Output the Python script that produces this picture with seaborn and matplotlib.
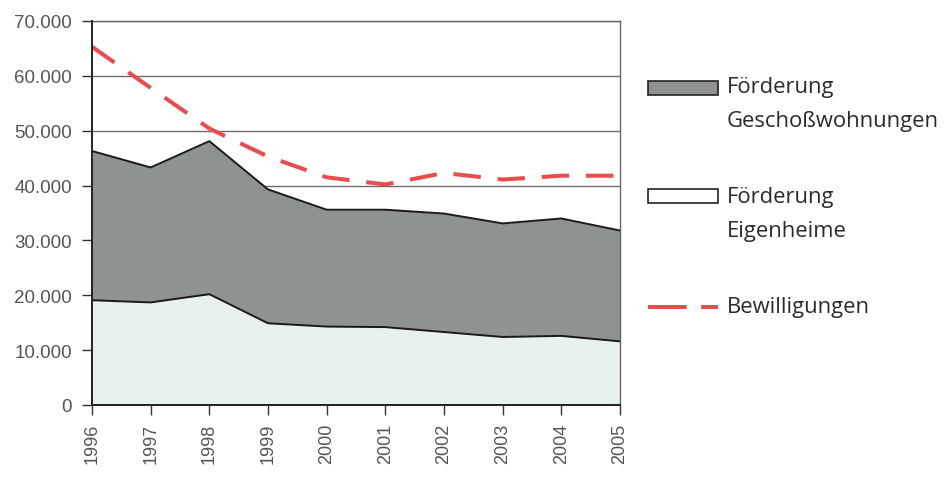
import matplotlib
matplotlib.use("Agg")
import matplotlib.pyplot as plt
import seaborn as sns
import pandas as pd
from matplotlib.patches import Rectangle
from matplotlib.lines import Line2D

years = [1996, 1997, 1998, 1999, 2000, 2001, 2002, 2003, 2004, 2005]
eigenheime = [19100, 18700, 20200, 14900, 14300, 14200, 13300, 12400, 12600, 11600]
geschoss = [27200, 24600, 27900, 24400, 21300, 21400, 21600, 20700, 21400, 20200]
bewilligungen = [65300, 57800, 50400, 45300, 41500, 40200, 42300, 41100, 41800, 41800]
y_ticks = [0, 10000, 20000, 30000, 40000, 50000, 60000, 70000]
y_labels = ["0", "10.000", "20.000", "30.000", "40.000", "50.000", "60.000", "70.000"]

df = pd.DataFrame({"Jahr": years, "Eigenheime": eigenheime,
                   "Geschoss": geschoss, "Bewilligungen": bewilligungen})
df["Gesamt"] = df["Eigenheime"] + df["Geschoss"]

sns.set_style("white")
plt.rcParams["font.family"] = ["Liberation Sans", "DejaVu Sans"]

fig = plt.figure(figsize=(9.52, 4.81), dpi=100)
ax = fig.add_axes([92 / 952, 1 - 406 / 481, (620 - 92) / 952, (406 - 22) / 481])

# horizontal grid behind the areas
for y in y_ticks[1:]:
    ax.axhline(y, color="#6b6b6b", lw=1.0, zorder=0)

# stacked areas
ax.fill_between(df["Jahr"], 0, df["Eigenheime"], color="#e7f2f0", lw=0, zorder=1)
ax.fill_between(df["Jahr"], df["Eigenheime"], df["Gesamt"], color="#8e9391", lw=0, zorder=1)
ax.plot(df["Jahr"], df["Eigenheime"], color="#1a1a1a", lw=1.4, zorder=3)
ax.plot(df["Jahr"], df["Gesamt"], color="#1a1a1a", lw=1.4, zorder=3)

# approvals line
sns.lineplot(data=df, x="Jahr", y="Bewilligungen", ax=ax, color="#ea4b4c",
             lw=2.9, dashes=False, zorder=4)
ax.lines[-1].set_dashes((6.8, 4.2))

ax.set_xlim(1996, 2005)
ax.set_ylim(0, 70000)
ax.set_yticks(y_ticks)
ax.set_yticklabels(y_labels)
ax.set_xticks(years)
ax.set_xticklabels([str(y) for y in years], rotation=90)
ax.set_xlabel("")
ax.set_ylabel("")

for side in ["top", "right"]:
    ax.spines[side].set_color("#666666")
    ax.spines[side].set_linewidth(1.0)
for side in ["left", "bottom"]:
    ax.spines[side].set_color("#222222")
    ax.spines[side].set_linewidth(1.4)
ax.spines["left"].set_zorder(5)
ax.spines["bottom"].set_zorder(5)

ax.tick_params(axis="both", which="both", direction="out", length=7, width=1.0,
               color="#333333", labelcolor="#555555", labelsize=13.5,
               left=True, bottom=True)
ax.tick_params(axis="y", pad=7.5)
ax.tick_params(axis="x", pad=6, labelsize=13)

# legend
leg_font = ["Liberation Sans Narrow", "Open Sans", "DejaVu Sans"]
fig.patches.append(Rectangle((648 / 952, 1 - 96 / 481), 70 / 952, 14 / 481,
                             transform=fig.transFigure, facecolor="#8e9391",
                             edgecolor="#222222", lw=1.2))
fig.patches.append(Rectangle((648 / 952, 1 - 204 / 481), 70 / 952, 14 / 481,
                             transform=fig.transFigure, facecolor="white",
                             edgecolor="#222222", lw=1.2))
fig.lines.append(Line2D([648 / 952, 718 / 952], [1 - 308 / 481, 1 - 308 / 481],
                        transform=fig.transFigure, color="#ea4b4c", lw=2.9,
                        dashes=(9.6, 3.6)))
legend_texts = [("Förderung", 88), ("Geschoßwohnungen", 122),
                ("Förderung", 198), ("Eigenheime", 232), ("Bewilligungen", 308)]
for txt, ypx in legend_texts:
    fig.text(727 / 952, 1 - ypx / 481, txt, fontsize=15.8, color="#2a2a2a",
             family=leg_font, va="center", ha="left")

fig.savefig("out.png", dpi=100)
